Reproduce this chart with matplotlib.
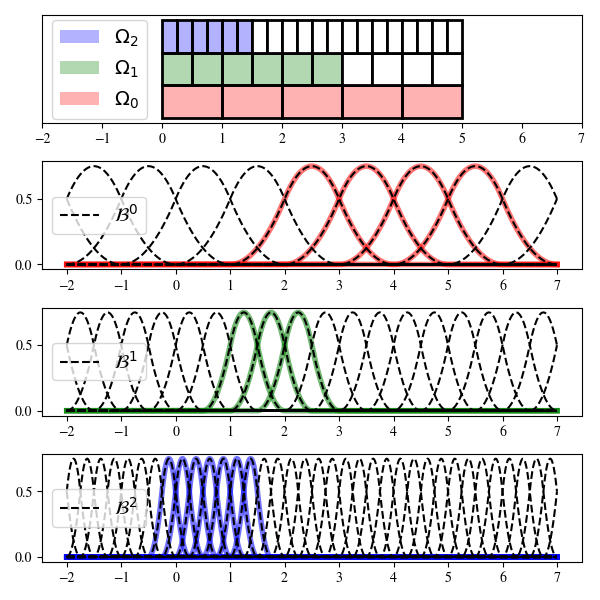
import numpy as np
import matplotlib
matplotlib.use("Agg")
import matplotlib.pyplot as plt
from matplotlib.patches import Rectangle, Patch

plt.rcParams['font.family'] = ['STIXGeneral', 'Liberation Serif', 'DejaVu Serif']
plt.rcParams['mathtext.fontset'] = 'dejavusans'

# domain and hierarchy
x_min, x_max = -2, 7
domain = (0, 5)
spacings = [1.0, 0.5, 0.25]          # knot spacing per level
omega_ends = [5, 3, 1.5]             # Omega_l = [0, end]
colors = ['red', 'green', 'blue']
omega_labels = [r'$\Omega_0$', r'$\Omega_1$', r'$\Omega_2$']
basis_labels = [r'$\mathcal{B}^0$', r'$\mathcal{B}^1$', r'$\mathcal{B}^2$']
xticks = list(range(-2, 8))

# left ends of the supports of the active (highlighted) functions
active_starts = [
    [1, 2, 3, 4],
    [0.5, 1.0, 1.5],
    [-0.5, -0.25, 0, 0.25, 0.5, 0.75, 1.0],
]


def bspline2(t):
    # uniform quadratic B-spline on [0, 3]
    y = np.zeros_like(t)
    m = (t >= 0) & (t < 1)
    y[m] = 0.5 * t[m] ** 2
    m = (t >= 1) & (t < 2)
    y[m] = 0.75 - (t[m] - 1.5) ** 2
    m = (t >= 2) & (t <= 3)
    y[m] = 0.5 * (3 - t[m]) ** 2
    return y


x = np.linspace(x_min, x_max, 2000)

fig, axes = plt.subplots(4, 1, figsize=(6, 6), dpi=100)

# top panel: the nested domains
ax = axes[0]
for lvl in range(3):
    h = spacings[lvl]
    n = int(round((domain[1] - domain[0]) / h))
    for i in range(n):
        x0 = domain[0] + i * h
        if x0 < omega_ends[lvl] - 1e-9:
            fc = matplotlib.colors.to_rgba(colors[lvl], 0.3)
        else:
            fc = 'white'
        ax.add_patch(Rectangle((x0, lvl), h, 1, facecolor=fc,
                               edgecolor='black', lw=2))
ax.set_xlim(x_min, x_max)
ax.set_ylim(-0.15, 3.15)
ax.set_yticks([])
ax.set_xticks(xticks)
handles = [Patch(facecolor=colors[l], alpha=0.3, label=omega_labels[l]) for l in [2, 1, 0]]
ax.legend(handles=handles, loc='center left', fontsize=14)

# basis function panels
for lvl in range(3):
    ax = axes[lvl + 1]
    h = spacings[lvl]
    starts = np.arange(x_min - 3 * h, x_max, h)
    for a in active_starts[lvl]:
        ax.plot(x, bspline2((x - a) / h), color=colors[lvl], lw=4, alpha=0.55)
    for k, a in enumerate(starts):
        ax.plot(x, bspline2((x - a) / h), 'k--', lw=1.5,
                label=basis_labels[lvl] if k == 0 else None)
    ax.set_xlim(x_min - 0.45, x_max + 0.45)
    ax.set_xticks(xticks)
    ax.set_yticks([0.0, 0.5])
    ax.legend(loc='center left', fontsize=14)

fig.tight_layout()
fig.savefig('out.png')
